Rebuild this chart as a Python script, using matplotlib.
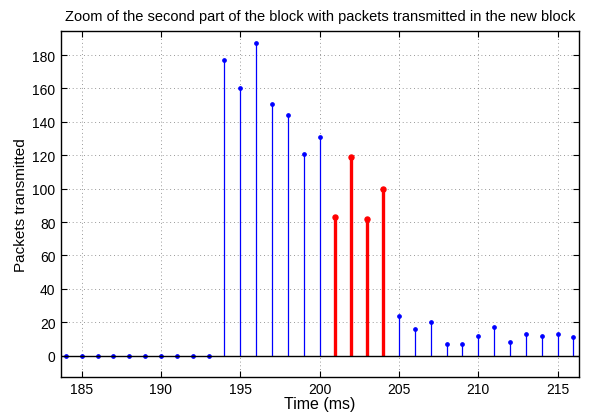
import numpy as np
import matplotlib.pyplot as plt

plt.rcParams['font.family'] = ['Liberation Sans', 'DejaVu Sans']

# packets per ms, split by which block they belong to
t_old = [184, 185, 186, 187, 188, 189, 190, 191, 192, 193,
         194, 195, 196, 197, 198, 199, 200]
n_old = [0, 0, 0, 0, 0, 0, 0, 0, 0, 0,
         177, 160, 187, 151, 144, 121, 131]

t_new = [201, 202, 203, 204]
n_new = [83, 119, 82, 100]

t_tail = [205, 206, 207, 208, 209, 210, 211, 212, 213, 214, 215, 216]
n_tail = [24, 16, 20, 7, 7, 12, 17, 8, 13, 12, 13, 11]

xticks = [185, 190, 195, 200, 205, 210, 215]
yticks = [0, 20, 40, 60, 80, 100, 120, 140, 160, 180]

fig = plt.figure(figsize=(6, 4.14), dpi=100)
ax = fig.add_axes([0.1017, 0.0877, 0.8633, 0.8357])

blue_t = t_old + t_tail
blue_n = n_old + n_tail
ax.vlines(blue_t, 0, blue_n, colors='#0000ff', linewidth=0.9, zorder=3)
ax.plot(blue_t, blue_n, 'o', color='#0000ff', markersize=2.4, zorder=4)

ax.vlines(t_new, 0, n_new, colors='#ff0000', linewidth=2.4, zorder=3)
ax.plot(t_new, n_new, 'o', color='#ff0000', markersize=3.6, zorder=4)

ax.axhline(0, color='black', linewidth=1.0, zorder=5)

ax.set_xlim(183.7, 216.35)
ax.set_ylim(-12.6, 194.6)
ax.set_xticks(xticks)
ax.set_yticks(yticks)
ax.tick_params(direction='in', top=True, right=True, length=4, width=0.8,
               labelsize=10, pad=4)
ax.grid(True, linestyle=(0, (1, 3.5)), color='#777777', linewidth=0.6)
ax.set_axisbelow(True)
for s in ax.spines.values():
    s.set_linewidth(1.0)

ax.set_title('Zoom of the second part of the block with packets transmitted in the new block',
             fontsize=10.5, pad=8)
ax.set_xlabel('Time (ms)', fontsize=11.5, labelpad=0)
ax.set_ylabel('Packets transmitted', fontsize=11, labelpad=3)

fig.savefig('out.png', dpi=100)
